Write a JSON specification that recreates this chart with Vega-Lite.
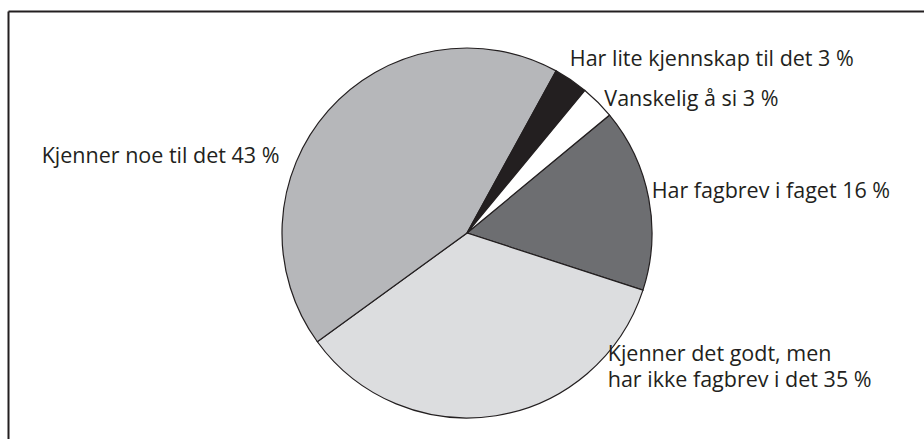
{
  "$schema": "https://vega.github.io/schema/vega-lite/v6.json",
  "autosize": "none",
  "width": 918,
  "height": 444,
  "padding": {"left": 8, "top": 11, "right": 0, "bottom": 0},
  "background": "#ffffff",
  "config": {
    "view": {"stroke": null},
    "text": {"font": "Open Sans", "fontSize": 21.5, "fill": "#231f20"}
  },
  "data": {
    "values": [
      {"key": "fagbrev", "label": "Har fagbrev i faget 16 %", "value": 16, "order": 1},
      {"key": "godt", "label": ["Kjenner det godt, men", "har ikke fagbrev i det 35 %"], "value": 35, "order": 2},
      {"key": "noe", "label": "Kjenner noe til det 43 %", "value": 43, "order": 3},
      {"key": "lite", "label": "Har lite kjennskap til det 3 %", "value": 3, "order": 4},
      {"key": "vansk", "label": "Vanskelig å si 3 %", "value": 3, "order": 5}
    ]
  },
  "layer": [
    {
      "mark": {"type": "point", "opacity": 0},
      "encoding": {
        "x": {"field": "value", "type": "quantitative", "axis": {"orient": "top", "domain": true, "domainColor": "#231f20", "domainWidth": 2, "ticks": false, "labels": false, "grid": false, "title": null}},
        "y": {"field": "order", "type": "quantitative", "axis": {"orient": "left", "domain": true, "domainColor": "#231f20", "domainWidth": 2, "ticks": false, "labels": false, "grid": false, "title": null}}
      }
    },
    {
      "mark": {"type": "arc", "outerRadius": 185, "stroke": "#231f20", "strokeWidth": 1.2},
      "encoding": {
        "theta": {"field": "value", "type": "quantitative", "stack": true, "scale": {"range": [0.8796, 7.1628]}},
        "order": {"field": "order", "type": "quantitative", "sort": "ascending"},
        "color": {
          "field": "key",
          "type": "nominal",
          "scale": {
            "domain": ["fagbrev", "godt", "noe", "lite", "vansk"],
            "range": ["#6d6e71", "#dcdddf", "#b6b7ba", "#231f20", "#ffffff"]
          },
          "legend": null
        }
      }
    },
    {
      "mark": {"type": "text", "radius": 190, "align": "left", "baseline": "middle", "dx": -2, "dy": -5},
      "encoding": {
        "theta": {"field": "value", "type": "quantitative", "stack": true},
        "order": {"field": "order", "type": "quantitative", "sort": "ascending"},
        "text": {"condition": {"test": "datum.key === 'fagbrev'", "field": "label"}, "value": ""}
      }
    },
    {
      "mark": {"type": "text", "radius": 190, "align": "left", "baseline": "middle", "dx": 111, "dy": -66, "lineHeight": 26},
      "encoding": {
        "theta": {"field": "value", "type": "quantitative", "stack": true},
        "order": {"field": "order", "type": "quantitative", "sort": "ascending"},
        "text": {"condition": {"test": "datum.key === 'godt'", "field": "label"}, "value": ""}
      }
    },
    {
      "mark": {"type": "text", "radius": 190, "align": "right", "baseline": "middle", "dx": -45, "dy": 50},
      "encoding": {
        "theta": {"field": "value", "type": "quantitative", "stack": true},
        "order": {"field": "order", "type": "quantitative", "sort": "ascending"},
        "text": {"condition": {"test": "datum.key === 'noe'", "field": "label"}, "value": ""}
      }
    },
    {
      "mark": {"type": "text", "radius": 190, "align": "left", "baseline": "middle", "dx": -4, "dy": -16},
      "encoding": {
        "theta": {"field": "value", "type": "quantitative", "stack": true},
        "order": {"field": "order", "type": "quantitative", "sort": "ascending"},
        "text": {"condition": {"test": "datum.key === 'lite'", "field": "label"}, "value": ""}
      }
    },
    {
      "mark": {"type": "text", "radius": 190, "align": "left", "baseline": "middle", "dx": 3, "dy": 1},
      "encoding": {
        "theta": {"field": "value", "type": "quantitative", "stack": true},
        "order": {"field": "order", "type": "quantitative", "sort": "ascending"},
        "text": {"condition": {"test": "datum.key === 'vansk'", "field": "label"}, "value": ""}
      }
    }
  ]
}
